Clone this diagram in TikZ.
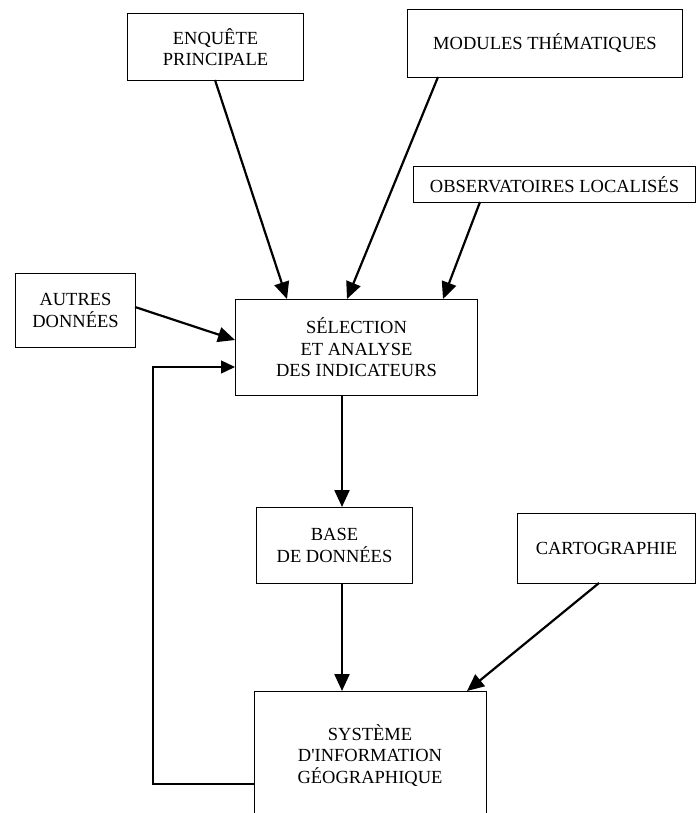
\documentclass[tikz,border=0pt]{standalone}
\usepackage{fontspec}
\setmainfont{Liberation Serif}[Ligatures=TeXOff]
\usetikzlibrary{arrows.meta}
\begin{document}
\begin{tikzpicture}[x=1pt,y=-1pt,
  box/.style={draw, line width=1pt, inner sep=0pt, align=center, anchor=north west,
    font=\fontsize{18.5}{21.5}\selectfont},
  arr/.style={line width=2.2pt, -{Triangle[length=17pt,width=15pt]}},
  fb/.style={line width=1.4pt, -{Triangle[length=14pt,width=13pt]}}]
\clip (0,0) rectangle (698,813);
\useasboundingbox (0,0) rectangle (698,813);
\fill[white] (0,0) rectangle (698,813);
\node[box, minimum width=176pt, minimum height=67pt] (enq) at (127,13) {ENQUÊTE\\PRINCIPALE};
\node[box, minimum width=275pt, minimum height=68pt] (mod) at (407,9) {MODULES THÉMATIQUES};
\node[box, minimum width=282pt, minimum height=36pt] (obs) at (413,166) {OBSERVATOIRES LOCALISÉS};
\node[box, minimum width=120pt, minimum height=74pt] (aut) at (15,273) {AUTRES\\DONNÉES};
\node[box, minimum width=242pt, minimum height=96pt] (sel) at (235,299) {SÉLECTION\\ET ANALYSE\\DES INDICATEURS};
\node[box, minimum width=156pt, minimum height=76pt] (base) at (256,507) {BASE\\DE DONNÉES};
\node[box, minimum width=178pt, minimum height=70pt] (carto) at (517,513) {CARTOGRAPHIE};
\node[box, draw=none, minimum width=231pt, minimum height=128pt] (sig) at (254,691) {SYSTÈME\\D'INFORMATION\\GÉOGRAPHIQUE};
\draw[line width=1pt] (sig.south west) -- (sig.north west) -- (sig.north east) -- (sig.south east);
% connectors
\coordinate (e1) at (215,80);
\coordinate (e2) at (287,299);
\draw[arr] (e1) -- (e2);
\coordinate (m1) at (438,77);
\coordinate (m2) at (347,299);
\draw[arr] (m1) -- (m2);
\coordinate (o1) at (480,202);
\coordinate (o2) at (443,299);
\draw[arr] (o1) -- (o2);
\coordinate (a1) at (135,307);
\coordinate (a2) at (235,340);
\draw[arr] (a1) -- (a2);
\coordinate (s1) at (342,395);
\coordinate (s2) at (342,507);
\draw[arr] (s1) -- (s2);
\coordinate (b1) at (342,583);
\coordinate (b2) at (342,691);
\draw[arr] (b1) -- (b2);
\coordinate (c1) at (599,583);
\coordinate (c2) at (467,691);
\draw[arr] (c1) -- (c2);
\coordinate (f1) at (254,784);
\coordinate (f2) at (153,367);
\coordinate (f3) at (235,367);
\draw[fb] (f1) -- (f1 -| f2) -- (f2) -- (f3);
\end{tikzpicture}
\end{document}
